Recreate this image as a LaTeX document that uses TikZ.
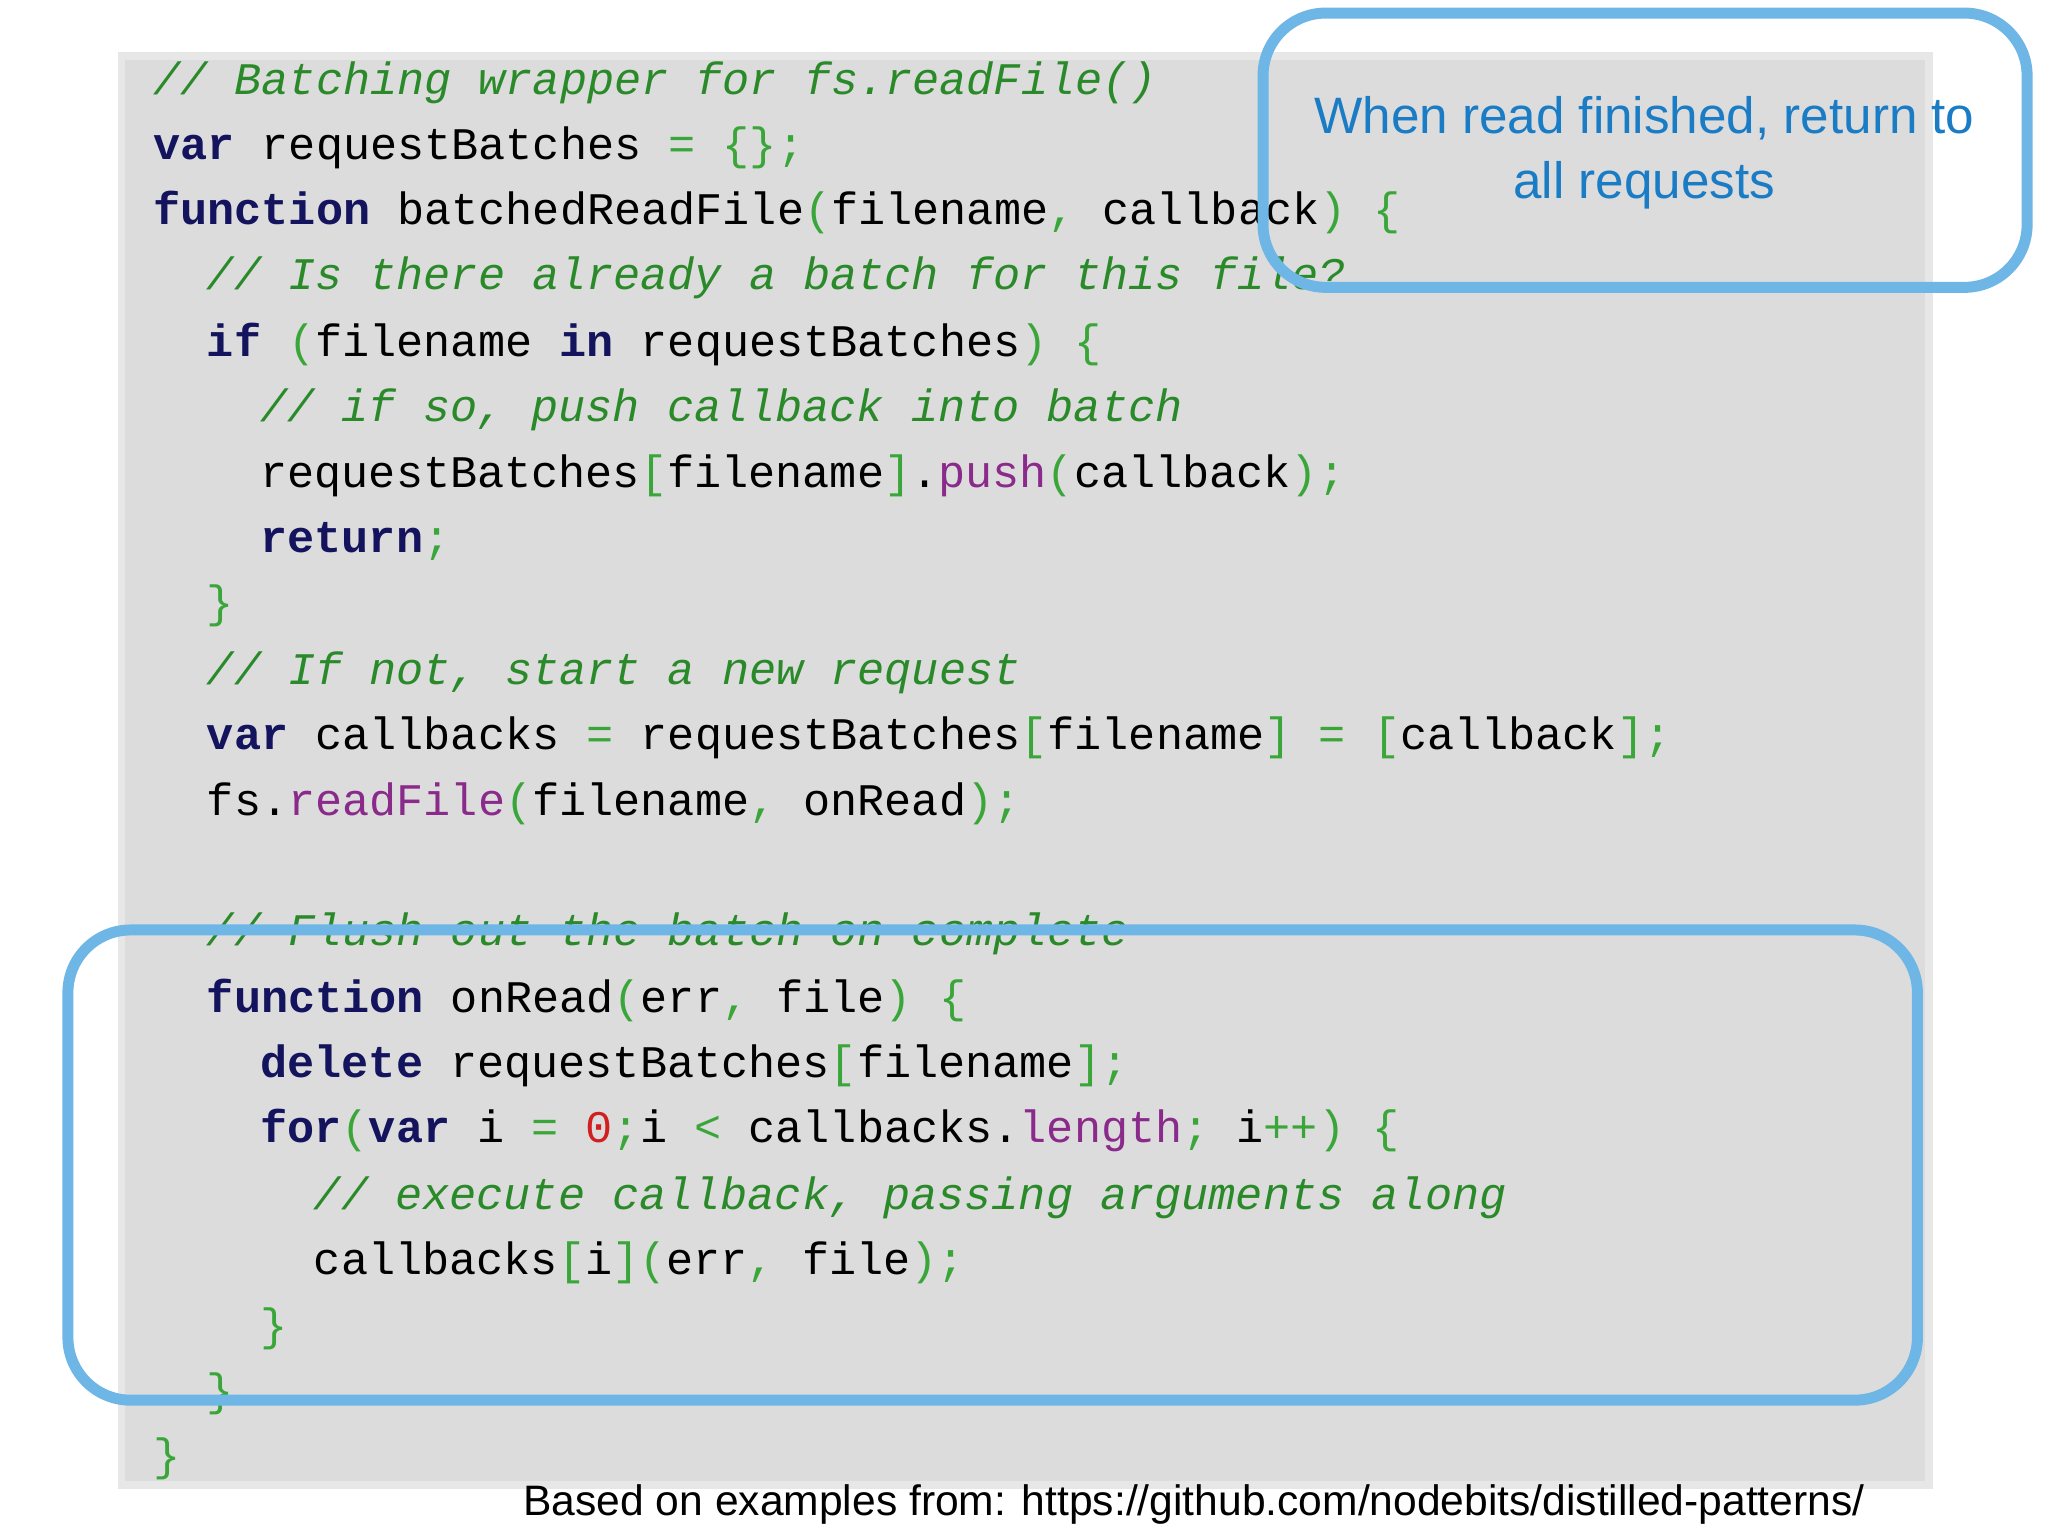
\documentclass[tikz,border=0pt]{standalone}
\usepackage{fontspec}
\setmainfont{Liberation Sans}
\setmonofont{Liberation Mono}
\definecolor{kwc}{HTML}{14145E}
\definecolor{cmc}{HTML}{2A8A2A}
\definecolor{puc}{HTML}{3AA63A}
\definecolor{fnc}{HTML}{8A2A8A}
\definecolor{nmc}{HTML}{D02020}
\definecolor{bgc}{HTML}{DCDCDC}
\definecolor{boxc}{HTML}{6DB6E6}
\definecolor{callc}{HTML}{1B7CC6}
\newcommand{\kw}[1]{\textcolor{kwc}{\bfseries #1}}
\newcommand{\cm}[1]{\textcolor{cmc}{\itshape #1}}
\newcommand{\pu}[1]{\textcolor{puc}{#1}}
\newcommand{\fnm}[1]{\textcolor{fnc}{#1}}
\newcommand{\nm}[1]{\textcolor{nmc}{#1}}
\begin{document}
\begin{tikzpicture}[x=0.5pt,y=-0.5pt,
  code/.style={anchor=base west,inner sep=0pt,font=\fontsize{17.3}{20}\ttfamily},
  hbox/.style={draw=boxc,line width=4.2pt,rounded corners=24pt}]
\useasboundingbox (0,0) rectangle (1568,1176);
\fill[bgc!70!white] (90,40) rectangle (1480,1140);
\fill[bgc] (96,46) rectangle (1474,1134);
\node[code] (l1) at (117,72) {\cm{// Batching wrapper for fs.readFile()}};
\node[code] (l2) at (117,122) {\kw{var} requestBatches \pu{=} \pu{\{\};}};
\node[code] (l3) at (117,172) {\kw{function} batchedReadFile\pu{(}filename\pu{,} callback\pu{)} \pu{\{}};
\node[code] (l4) at (158,222) {\cm{// Is there already a batch for this file?}};
\node[code] (l5) at (158,273) {\kw{if} \pu{(}filename \kw{in} requestBatches\pu{)} \pu{\{}};
\node[code] (l6) at (199,323) {\cm{// if so, push callback into batch}};
\node[code] (l7) at (199,373) {requestBatches\pu{[}filename\pu{]}.\fnm{push}\pu{(}callback\pu{);}};
\node[code] (l8) at (199,423) {\kw{return}\pu{;}};
\node[code] (l9) at (158,473) {\pu{\}}};
\node[code] (l10) at (158,524) {\cm{// If not, start a new request}};
\node[code] (l11) at (158,574) {\kw{var} callbacks \pu{=} requestBatches\pu{[}filename\pu{]} \pu{=} \pu{[}callback\pu{];}};
\node[code] (l12) at (158,624) {fs.\fnm{readFile}\pu{(}filename\pu{,} onRead\pu{);}};
\node[code] (l13) at (158,724) {\cm{// Flush out the batch on complete}};
\node[code] (l14) at (158,775) {\kw{function} onRead\pu{(}err\pu{,} file\pu{)} \pu{\{}};
\node[code] (l15) at (199,825) {\kw{delete} requestBatches\pu{[}filename\pu{];}};
\node[code] (l16) at (199,875) {\kw{for}\pu{(}\kw{var} i \pu{=} \nm{0}\pu{;}i \pu{<} callbacks.\fnm{length}\pu{;} i\pu{++)} \pu{\{}};
\node[code] (l17) at (240,926) {\cm{// execute callback, passing arguments along}};
\node[code] (l18) at (240,976) {callbacks\pu{[}i\pu{]}\pu{(}err\pu{,} file\pu{);}};
\node[code] (l19) at (199,1026) {\pu{\}}};
\node[code] (l20) at (158,1076) {\pu{\}}};
\node[code] (l21) at (117,1126) {\pu{\}}};
\draw[hbox] (967,10) rectangle (1552,220);
\node[hbox] (box2) at (760,892) [draw,minimum width=708pt,minimum height=180pt,inner sep=0pt] {};
\node[align=center,text=callc,font=\fontsize{19.6}{25}\selectfont] (call) at (1259,117) {When read finished, return to\\all requests};
\node[anchor=base east,inner sep=0pt,font=\fontsize{16.3}{19}\selectfont] (foot) at (1428,1160) {Based on examples from: https://github.com/nodebits/distilled-patterns/};
\end{tikzpicture}
\end{document}
